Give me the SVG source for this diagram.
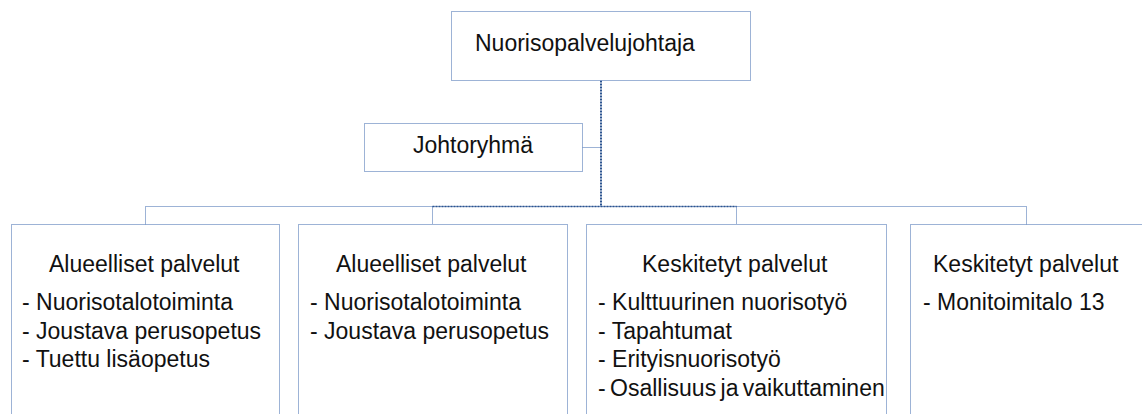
<svg xmlns="http://www.w3.org/2000/svg" width="1142" height="414" viewBox="0 0 1142 414">
  <style>
    .box { fill: #ffffff; stroke: #3b66ad; stroke-width: 1; stroke-dasharray: 1 1; }
    .link { fill: none; stroke: #3b66ad; stroke-width: 1; stroke-dasharray: 1 1; }
    .link-strong { fill: none; stroke: #2c548f; stroke-width: 1.4; stroke-dasharray: 2 1; }
    .trunk { fill: none; stroke: #2c548f; stroke-width: 2; stroke-dasharray: 2 1; }
    text { font-family: "Liberation Sans", Arial, sans-serif; font-size: 23px; fill: #111111; }
  </style>
  <rect width="1142" height="414" fill="#ffffff"/>

  <!-- connectors -->
  <g id="connectors">
    <path class="trunk" d="M601 80.5 V206.5"/>
    <path class="link" d="M582.5 147.5 H601"/>
    <path class="link" d="M145.5 224.5 V206.5 H1026.5 V224.5"/>
    <path class="link" d="M432.5 206.5 V224.5"/>
    <path class="link" d="M736.5 206.5 V224.5"/>
    <path class="link-strong" d="M432.5 206.5 H736.5"/>
  </g>

  <!-- head of the unit -->
  <g id="node-johtaja">
    <rect class="box" x="451.5" y="11.5" width="299" height="69"/>
    <text x="475" y="51">Nuorisopalvelujohtaja</text>
  </g>

  <!-- management group -->
  <g id="node-johtoryhma">
    <rect class="box" x="364.5" y="123.5" width="218" height="48"/>
    <text x="473" y="153" text-anchor="middle">Johtoryhmä</text>
  </g>

  <!-- regional services 1 -->
  <g id="node-alueelliset-1">
    <rect class="box" x="11.5" y="224.5" width="268" height="200"/>
    <text x="49" y="271.5">Alueelliset palvelut</text>
    <text x="22" y="310">- Nuorisotalotoiminta</text>
    <text x="22" y="338.5">- Joustava perusopetus</text>
    <text x="22" y="367">- Tuettu lisäopetus</text>
  </g>

  <!-- regional services 2 -->
  <g id="node-alueelliset-2">
    <rect class="box" x="298.5" y="224.5" width="269" height="200"/>
    <text x="336" y="271.5">Alueelliset palvelut</text>
    <text x="310" y="310">- Nuorisotalotoiminta</text>
    <text x="310" y="338.5">- Joustava perusopetus</text>
  </g>

  <!-- centralised services 1 -->
  <g id="node-keskitetyt-1">
    <rect class="box" x="586.5" y="224.5" width="300" height="200"/>
    <text x="642" y="271.5">Keskitetyt palvelut</text>
    <text x="598" y="310">- Kulttuurinen nuorisotyö</text>
    <text x="598" y="338.5">- Tapahtumat</text>
    <text x="598" y="367">- Erityisnuorisotyö</text>
    <text x="598" y="395.5" word-spacing="-2">- Osallisuus ja vaikuttaminen</text>
  </g>

  <!-- centralised services 2 -->
  <g id="node-keskitetyt-2">
    <rect class="box" x="910.5" y="224.5" width="233" height="200"/>
    <text x="933" y="271.5">Keskitetyt palvelut</text>
    <text x="923" y="310">- Monitoimitalo 13</text>
  </g>
</svg>
